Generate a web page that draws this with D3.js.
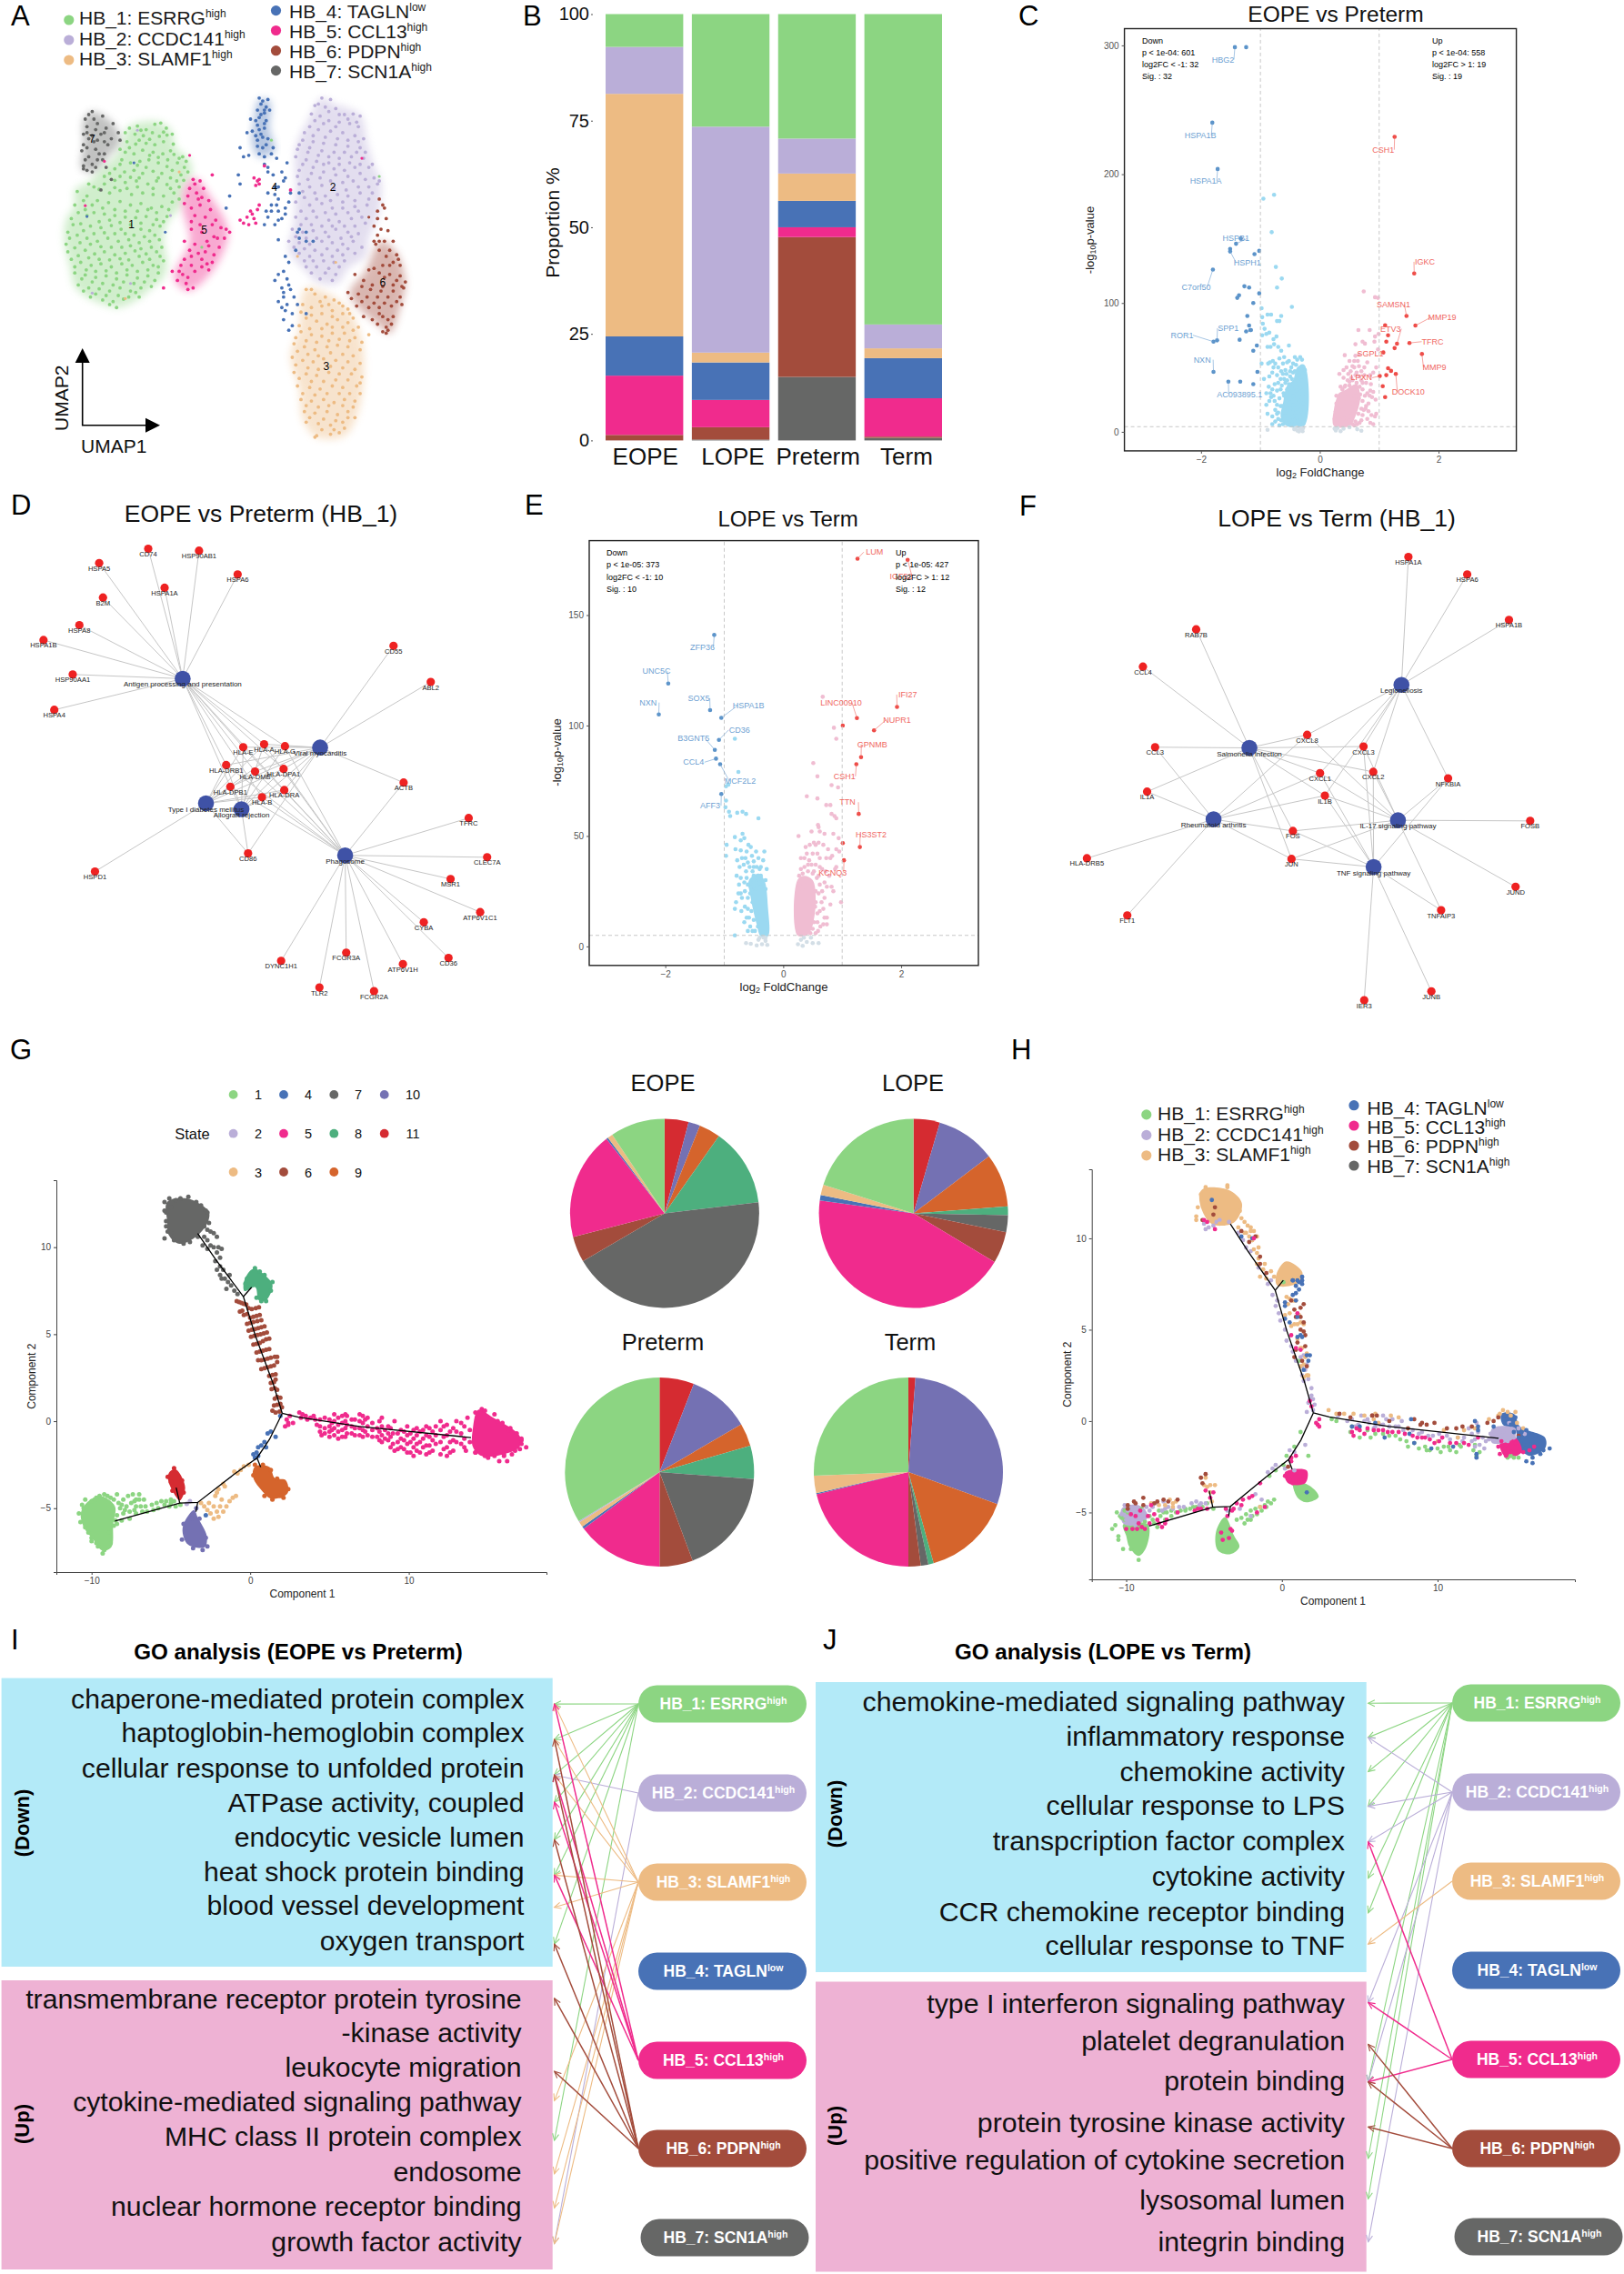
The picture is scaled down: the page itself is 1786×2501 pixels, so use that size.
<!DOCTYPE html>
<html><head><meta charset="utf-8"><script src="https://cdn.jsdelivr.net/npm/d3@7"></script>
<style>html,body{margin:0;background:#fff}text{font-family:"Liberation Sans",Arial,sans-serif}</style></head><body>
<script>
// ---- shared categories
const typeNames=["HB_1: ESRRG","HB_2: CCDC141","HB_3: SLAMF1","HB_4: TAGLN","HB_5: CCL13","HB_6: PDPN","HB_7: SCN1A"];
const typeSup=["high","high","high","low","high","high","high"];
const typeColors=["#8CD582","#BAAED8","#EDBB83","#4872B6","#F02B8D","#A34C3C","#666766"];
const stateColors=["#8CD582","#BAAED8","#EDBB83","#4872B6","#F02B8D","#A34C3C","#666766","#4DAF7E","#D5642C","#7471B3","#D52B31"];
// ---- A: UMAP, read in picture units
const umapOutline=[
[[370,420],[460,405],[495,440],[505,490],[545,530],[550,580],[525,620],[520,680],[480,740],[470,800],[480,870],[470,920],[430,960],[400,990],[340,1020],[300,1010],[250,985],[215,950],[200,880],[185,800],[190,730],[215,680],[215,630],[260,600],[290,560],[330,520],[350,480]],
[[925,325],[960,345],[1035,380],[1055,470],[1075,550],[1095,600],[1090,700],[1060,790],[1050,850],[1000,890],[970,940],[910,935],[880,900],[830,830],[845,740],[850,620],[850,490],[885,400]],
[[880,955],[960,985],[1010,1040],[1040,1130],[1045,1260],[1025,1380],[990,1445],[910,1450],[870,1390],[860,1290],[835,1180],[860,1090],[865,1000]],
[[745,330],[775,335],[775,430],[790,500],[745,520],[725,480],[730,400]],
[[560,590],[610,660],[650,740],[655,790],[610,900],[540,965],[500,920],[545,800],[525,690],[530,620]],
[[1095,800],[1135,830],[1165,930],[1150,1020],[1120,1105],[1085,1075],[1030,1020],[1005,970],[1050,900]],
[[265,370],[325,410],[345,470],[310,520],[270,570],[235,560],[240,480],[240,400]]];
const umapPts1=[372,425,395,418,420,430,445,412,462,408,478,425,388,445,412,450,438,440,458,452,480,448,495,445,365,470,390,478,420,475,445,480,470,470,498,478,360,505,385,510,410,498,440,505,468,510,500,512,525,520,350,530,375,540,402,535,428,530,455,540,482,530,510,540,535,535,330,560,358,570,385,565,410,575,440,568,465,575,495,565,520,580,540,570,300,585,330,598,360,605,392,600,425,610,450,600,480,612,508,600,528,598,255,610,285,628,315,640,345,632,378,645,410,640,440,645,470,650,500,640,222,635,250,650,280,665,312,672,345,668,375,680,405,675,435,690,465,685,495,670,215,680,245,695,270,705,300,710,330,715,360,720,390,722,420,718,450,728,480,718,205,725,232,742,260,750,290,755,320,748,348,760,405,760,430,765,460,750,195,770,222,780,250,790,280,800,310,790,340,800,370,795,400,805,430,800,458,795,190,810,215,822,245,830,272,842,300,835,330,845,360,840,388,832,420,842,450,835,205,860,232,870,262,880,290,875,320,885,350,875,380,880,410,870,440,880,470,865,215,905,245,912,275,920,305,915,335,925,365,912,395,922,425,915,455,905,225,945,255,955,285,958,315,965,345,955,375,965,405,955,435,950,260,985,295,995,325,1000,355,992,400,985];
const umapPts1b=[360,440,405,432,430,462,470,438,400,465,345,495,372,490,430,515,455,522,490,500,515,525,345,545,395,548,420,555,480,552,530,555,315,575,345,585,375,588,400,590,455,590,490,590,515,620,270,620,300,610,330,622,365,625,395,620,440,625,490,625,240,665,265,680,295,690,330,695,360,700,395,700,425,695,450,705,485,695,515,660,225,705,250,715,285,735,315,730,345,738,375,745,405,740,440,745,470,735,210,745,240,765,270,775,300,772,330,775,360,775,385,780,415,785,445,780,200,790,230,805,260,810,290,818,320,820,350,820,375,815,405,825,435,820,465,820,195,835,225,848,255,855,285,860,315,862,345,858,370,862,400,850,430,860,460,850,215,885,248,895,275,900,305,898,335,905,365,895,395,900,425,895,455,885,235,925,265,935,295,940,325,945,355,935,385,940,415,935,445,930,240,965,275,975,305,980,340,980,370,985,390,970,315,1010,335,1020];
const umapPts2=[925,325,950,330,905,350,935,355,965,360,895,378,920,385,990,380,1015,378,1035,385,945,400,975,405,1005,410,1030,420,890,420,915,430,950,435,985,440,1020,450,1045,460,870,465,900,470,930,475,965,480,1000,485,1035,490,855,495,885,505,915,515,945,520,975,525,1010,520,1045,525,870,545,900,555,930,545,960,560,990,565,1020,555,1060,555,855,585,885,595,920,590,950,600,985,605,1015,600,1050,595,1085,610,870,635,905,640,935,650,970,645,1000,650,1035,640,1070,640,850,670,890,680,925,675,955,690,985,690,1020,685,1055,680,850,720,880,725,910,720,945,730,975,735,1010,725,1040,720,840,760,870,770,900,765,935,770,965,760,1000,770,1030,775,830,800,860,805,890,810,925,800,955,805,985,810,1015,800,860,840,890,850,925,845,955,850,985,845,1020,840,880,885,910,885,945,890,975,885,920,925,955,930];
const umapPts2b=[915,345,945,370,975,380,905,400,930,410,965,420,1000,395,1025,405,875,440,900,450,935,455,970,460,1000,465,1030,470,860,480,890,490,925,500,960,505,990,505,1025,505,1050,505,850,520,880,530,910,535,945,540,975,545,1005,540,1035,545,1070,545,860,565,895,575,930,570,965,580,1000,585,1035,575,1075,590,860,610,890,620,925,615,960,625,995,630,1030,620,1060,620,1090,600,875,655,910,660,950,665,985,670,1020,665,1060,660,865,700,900,700,935,705,965,710,1000,705,1030,700,865,745,895,745,925,750,955,750,990,750,1020,750,1050,740,850,785,880,790,910,790,945,785,980,790,1010,785,845,820,875,825,905,830,940,825,970,830,1000,825,1040,820,875,865,900,865,930,865,960,870,990,865,935,905,965,910,895,905];
const umapPts3=[880,960,905,975,935,985,960,995,870,1010,895,1020,925,1015,955,1030,985,1015,1005,1040,880,1055,910,1065,940,1075,970,1060,1000,1070,1030,1085,865,1100,895,1110,925,1115,955,1105,990,1105,1020,1120,1060,1110,845,1140,875,1150,905,1160,940,1150,970,1145,1000,1150,1035,1160,840,1185,870,1195,900,1200,930,1190,965,1195,1000,1200,1035,1205,845,1235,880,1240,910,1245,945,1235,975,1240,1010,1240,1040,1250,855,1280,890,1285,920,1290,955,1280,985,1285,1025,1280,865,1325,895,1330,930,1325,960,1335,990,1325,1020,1330,875,1365,905,1370,940,1365,970,1375,1000,1365,880,1400,915,1405,950,1410,985,1400,910,1445,950,1440,975,1435];
const umapPts3b=[895,960,920,1000,945,1010,975,1005,1000,1025,865,1035,895,1045,925,1040,955,1050,985,1040,1015,1055,860,1080,890,1090,925,1090,955,1085,985,1085,1015,1095,850,1120,880,1130,910,1135,945,1130,975,1125,1005,1130,1040,1135,855,1165,885,1175,915,1180,950,1170,985,1175,1015,1180,850,1210,885,1220,915,1225,950,1215,985,1220,1020,1225,860,1255,895,1265,930,1265,965,1260,1000,1260,1035,1270,870,1305,905,1310,940,1305,975,1305,1005,1305,1035,1305,880,1345,915,1350,945,1345,985,1345,1015,1350,890,1385,930,1390,965,1395,1000,1385,1020,1385,925,1425,960,1425,990,1420,905,1450];
const umapPts4=[745,325,770,330,750,345,765,355,740,365,760,375,775,365,745,390,765,400,720,395,740,415,760,425,725,435,750,445,770,460,740,465,710,440,755,490,785,490,690,490,715,515,745,510,795,525,825,540,760,545,770,570,810,570,685,580,690,610,815,600,790,620,770,640,835,640,860,640,800,660,780,680,660,650,650,690,800,700,820,710,770,720,790,745,810,725,760,745,855,770,860,790,900,800,800,795,850,830,820,850,800,910,825,925,810,955,835,960,815,985,825,1010,820,1030,855,1010,880,1040,840,1080,830,1095,755,335,760,365,750,380,735,400,760,410,745,430,755,455,735,450,765,480,780,510,740,485,700,520,760,520,770,555,785,580,820,590,800,620,790,645,795,680,780,700,765,700,800,730,820,690,830,670,860,760,880,800,880,770,830,870,815,900,790,930,830,945,815,970,845,985,800,1000,840,1040,810,1020,815,1060];
const umapPts5=[555,595,575,600,610,580,545,625,565,640,580,655,530,675,550,690,575,680,600,665,560,715,590,720,610,745,635,755,660,770,550,760,580,770,615,785,645,790,530,800,560,810,600,815,630,820,550,850,580,860,610,870,520,880,495,900,525,910,560,900,600,895,510,930,540,960,470,955,740,600,735,615,745,610,720,700,745,680,730,725,715,745,690,730,760,550,835,630,560,610,585,625,570,660,540,650,605,695,550,735,575,745,620,730,650,760,625,790,595,800,545,830,570,840,590,835,615,845,595,875,530,860,550,880,580,885,540,920,515,900,535,940,555,955,730,590,745,595,725,710,740,695,735,740,710,720,700,740];
const umapPts6=[1090,660,1100,680,1085,725,1110,725,1075,750,1115,765,1085,780,1080,810,1090,830,1130,800,1110,850,1140,845,1100,880,1130,870,1150,880,1060,895,1090,905,1120,910,1150,915,1165,935,1020,910,1045,930,1070,945,1100,950,1130,945,1160,955,1000,970,1030,975,1055,985,1085,985,1115,985,1150,985,1025,1015,1060,1020,1090,1020,1125,1015,1155,1010,1070,1060,1100,1050,1130,1050,1085,1075,1110,1085,1125,1075,1110,1105,1085,700,1105,690,1095,760,1105,800,1075,800,1090,800,1120,830,1145,860,1120,880,1075,890,1105,920,1140,930,1155,950,1040,950,1065,960,1095,965,1130,965,1010,990,1040,1000,1075,1005,1105,1005,1140,1000,1045,1050,1090,1040,1115,1060,1100,1100,1115,1095];
const umapPts7=[265,370,245,395,270,395,295,385,250,420,275,430,325,410,305,425,240,445,265,450,290,445,340,440,240,480,270,470,300,470,345,465,235,500,275,495,310,480,255,520,300,510,240,550,265,545,295,530,250,565,265,570,305,555,320,595,290,630,255,380,280,410,250,440,300,440,255,460,280,465,320,460,250,490,285,510,245,530,280,530,240,560,275,555];
const umapStrays=[[1,395,432],[4,545,515],[2,515,570],[0,1090,585],[5,1060,720],[3,385,540],[4,245,682],[3,250,718],[1,490,715],[2,360,990],[1,375,940],[1,265,972],[0,580,820],[4,300,535],[4,1040,525],[0,780,465],[2,855,850],[2,965,870],[3,475,770]];
const clusterNums=[[1,378,745],[2,957,620],[3,938,1215],[4,789,622],[5,587,762],[6,1100,938],[7,265,460]];
// ---- B: stacked proportions, one list per group, HB_7 at the bottom up to HB_1
const groups=["EOPE","LOPE","Preterm","Term"];
const propEOPE=[0,1.3,13.9,9.2,56.9,11,7.7];
const propLOPE=[.2,2.9,6.4,8.8,2.3,53,26.4];
const propPreterm=[14.9,32.8,2.3,6.2,6.4,8.2,29.2];
const propTerm=[.6,.3,9,9.4,2.3,5.6,72.8];
const propTicks=[0,25,50,75,100];
// ---- C: volcano EOPE vs Preterm
const cDown=[-1.43,298.6,-1.24,298.6,-1.81,240,-1.72,204,-1.33,150,-1.41,146,-1.51,142,-1.51,140,-1.02,140.5,-1.10,138,-1.80,126,-1.27,113,-1.19,112,-1.02,107.5,-1.36,106,-1.39,104,-1.12,100,-1.22,90,-1.19,82.5,-1.17,79,-1.24,78,-1.16,79,-1.73,71,-1.79,70,-1.35,71.5,-1.06,67,-1.12,63,-1.79,46.5,-1.05,46.5,-1.54,39,-1.34,39,-1.12,37];
const cUp=[1.26,229,1.59,123,1.46,90,1.61,82.5,1.10,82.7,1.15,75,1.30,68.4,1.12,70,1.51,69,1.26,65,1.07,61.6,1.72,60.4,1.15,49.4,1.20,47.3,1.28,45,1.12,44,1.01,43.3,1.06,35.4,1.10,27];
const cLightBlue=[-.95,181,-.77,184,-.81,155,-.74,128,-.64,119,-.72,112,-.47,97,-.98,96,-.97,89,-.88,91,-.82,91,-.65,90,-.72,86,-.68,86,-.96,84,-.93,80,-.9,76,-.85,77,-.97,75,-.73,74,-.78,72,-.77,68,-.83,66,-.7,66,-.52,67,-.65,63,-.88,66,-.79,55,-.84,54,-.98,53,-.87,53,-.78,50,-.62,53,-.52,55,-.33,58,-.48,50,-.55,54,-.94,41,-.85,43,-.8,46,-.72,44,-.62,45,-.58,48,-.45,46,-.3,51,-.35,44,-.86,35,-.8,33,-.72,32,-.64,36,-.58,38,-.47,41,-.41,38,-.3,40,-.82,27,-.76,24,-.68,26,-.61,30,-.55,33,-.48,34,-.39,32,-.33,34,-.75,17,-.7,15,-.63,20,-.56,24,-.5,26,-.44,28,-.29,29,-.8,12,-.7,10,-.58,15,-.5,18,-.44,21,-.35,24,-.28,22,-.8,6,-.56,7,-.5,9,-.45,12,-.4,15,-.33,17,-.28,14,-.42,6,-.33,8,-.27,7,-.38,11,-.6,41,-.55,40,-.5,43,-.44,37,-.36,47,-.32,48,-.28,45,-.66,33,-.6,28,-.52,37,-.7,38,-.76,37,-.66,20,-.72,21,-.78,28,-.6,12,-.65,9,-.75,8,-.9,21,-.85,24,-.88,14,-.62,6,-.68,5,-.72,14,-.83,30,-.9,30,-.42,47,-.4,52,-.45,53,-.5,47,-.56,45,-.66,41,-.75,53,-.7,50,-.68,57,-.65,47,-.42,58,-.38,56,-.3,56,-.6,58,-.25,48];
const cLightPink=[.74,109,.93,104.5,.98,104,.65,79,.84,79,.93,74,.6,68,.72,70,.92,70,.76,68.5,.99,76,.66,60,.6,59,.58,55,.42,59.5,.98,64,.55,51,.66,51,.8,54,.75,50,.4,48,.62,46,.53,42,.4,42,.7,40,.78,38,.86,37,.33,45,.5,36,.55,34,.72,33,.85,32,.9,31,.94,25,.8,30,.35,29,.42,30,.47,30,.58,28,.68,29,.62,25,.72,24,.82,22,.87,13,.93,12,.95,14,.8,10,.7,9,.85,7,.6,18,.55,22,.5,15,.45,23,.38,17,.3,20,.27,16,.33,12,.25,10,.4,10,.5,9,.65,14,.72,13,.67,7,.6,8,.28,22,.33,28,.38,33,.43,36,.5,39,.55,40,.62,38,.67,35,.72,38,.76,28,.78,20,.7,18,.66,26,.74,17,.82,16,.9,6,.63,6,.58,5,.55,6,.3,7,.28,28,.35,35,.42,35,.47,40,.52,47,.58,50,.48,45,.45,50,.6,44,.67,43,.7,47,.64,55,.5,55,.85,44,.9,46,.95,50,.75,44,.84,28,.88,27,.77,18];
const cGrey=[-.88,1.5,-.43,2,-.38,1,-.33,2.5,-.29,.5,-.4,3.5,-.28,3,.27,1,.3,3,.35,.5,.4,2.5,.5,3.5,.63,2,.7,.8,.25,2.5,-.35,.3,-.3,2.8];
const cDenseBlue=[[-.26,4.5],[-.26,52],[-.38,50],[-.45,40],[-.55,36],[-.62,22],[-.66,12],[-.58,5]];
const cDensePink=[[.24,4.5],[.24,18],[.33,30],[.45,33],[.62,37],[.68,26],[.6,12],[.5,4.5]];
const cLabels=[["HBG2",-1.43,298.6,-1.63,289],["HSPA1B",-1.81,240,-2.01,230],["HSPA1A",-1.72,204,-1.92,194.6],["HSPB1",-1.41,146,-1.41,150],["HSPH1",-1.51,140,-1.22,131],["C7orf50",-1.80,126,-2.08,112.4],["SPP1",-1.73,71,-1.54,80.5],["ROR1",-1.79,70,-2.32,75],["NXN",-1.79,46.5,-1.98,56],["AC093895.1",-1.54,39,-1.35,29.2],["CSH1",1.26,229,1.07,219],["IGKC",1.59,123,1.77,132],["SAMSN1",1.46,90,1.24,99],["MMP19",1.61,82.5,2.06,89],["ETV3",1.30,68.4,1.19,80],["TFRC",1.51,69,1.90,70],["SGPL1",1.07,61.6,.85,61],["MMP9",1.72,60.4,1.93,50],["LPXN",1.01,43.3,.70,42],["DOCK10",1.28,45,1.49,31]];
const cInfoDown=["Down","p < 1e-04: 601","log2FC < -1: 32","Sig. : 32"];
const cInfoUp=["Up","p < 1e-04: 558","log2FC > 1: 19","Sig. : 19"];
// ---- E: volcano LOPE vs Term
const eDown=[-1.17,141,-1.95,119,-2.11,105,-1.24,107,-1.05,103.5,-1.09,93.5,-1.16,89,-1.14,85,-1.07,82.5,-1.05,69];
const eUp=[1.26,175.5,2.11,175,1.93,108.4,1.25,103.4,1.01,100,1.54,97.8,1.32,85.7,1.24,82.5,1.28,60,1.01,46.8,1.30,45,1.03,39];
const eLightBlue=[-.82,94,-.76,79,-.93,73.2,-.97,72.5,-.97,66,-.98,63,-.92,61,-.9,59,-.78,60.5,-.69,61,-.63,60,-.42,58,-.82,49.5,-.69,51,-.72,48,-.66,49,-.59,46,-.96,46,-.97,41,-.81,44,-.72,43.5,-.46,43,-.32,43,-.78,39,-.64,40,-.6,38,-.5,38.5,-.34,39,-.45,36,-.4,35,-.57,36,-.63,34,-.52,34,-.79,32,-.72,31,-.62,31,-.5,32,-.38,32,-.4,29,-.75,28,-.65,25,-.56,24,-.48,26,-.3,26,-.6,22,-.52,20,-.82,17,-.71,16,-.54,16,-.58,13,-.5,12,-.45,15,-.43,9,-.3,12,-.82,5,-.48,7,-.3,8,-.55,27,-.6,28,-.66,29,-.7,22,-.65,18,-.6,17,-.72,24,-.62,13,-.66,11,-.56,9,-.6,7,-.52,7,-.46,26,-.5,29,-.44,31,-.38,36,-.3,30,-.28,35,-.42,40,-.5,36,-.53,41,-.67,37,-.74,36,-.7,40,-.76,24,-.8,20,-.38,27,-.62,43,-.55,45];
const eLightPink=[.67,113,.86,99,.9,94,.51,83,.58,77,.82,73,.93,72,.4,68,.58,67,.73,64,.8,64,.82,60,.87,59,.9,58,.59,55,.6,54,.26,50,.48,52,.62,52,.7,51,.85,51,.94,49,.55,46,.6,47,.68,46,.4,42,.5,42,.58,42,.73,40,.83,41,.95,43,.36,40,.44,39,.55,37,.62,40,.9,36,.88,35,.33,33,.42,34,.5,33,.6,32,.7,29,.82,27,.85,25,.32,26,.4,28,.55,25,.65,20,.98,20,.8,19,.54,18,.62,16,.74,13,.58,11,.68,10,.59,7,.27,32,.3,35,.36,36,.42,37,.48,37,.52,34,.57,31,.62,28,.66,25,.7,22,.6,24,.55,20,.58,15,.52,11,.5,8,.46,6,.3,40,.38,45,.45,46,.52,47,.72,34,.78,32,.74,27,.66,35,.68,17,.7,13,.63,9,.55,6,.28,28,.8,40,.76,44,.9,44,.62,36,.74,10];
const eGrey=[-.63,1.5,-.55,1.2,-.45,.5,-.42,3,-.36,1,-.3,2.5,-.27,.7,-.33,4,.25,1,.3,3,.33,.3,.4,2,.47,4,.5,1.5,.6,1.5,-.4,4,-.3,4,.35,4];
const eDenseBlue=[[-.26,4.5],[-.26,18],[-.32,30],[-.42,33],[-.58,30],[-.55,22],[-.45,10],[-.38,4.5]];
const eDensePink=[[.24,5],[.24,30],[.35,32],[.5,30],[.55,20],[.48,8],[.4,5]];
const eLabels=[["ZFP36",-1.17,141,-1.37,135.4],["UNC5C",-1.95,119,-2.15,124.6],["NXN",-2.11,105,-2.29,110.4],["SOX5",-1.24,107,-1.43,112.4],["HSPA1B",-1.05,103.5,-.59,109],["CD36",-1.09,93.5,-.74,98],["B3GNT5",-1.16,89,-1.52,94.4],["CCL4",-1.14,85,-1.52,83.4],["MCF2L2",-1.07,82.5,-.73,74.9],["AFF3",-1.05,69,-1.24,63.7],["LUM",1.26,175.5,1.55,178.5],["IGF52",2.11,175,2.0,167.4],["IFI27",1.93,108.4,2.11,114],["LINC00910",1.25,103.4,.98,110.4],["NUPR1",1.54,97.8,1.93,102.6],["GPNMB",1.32,85.7,1.51,91.3],["CSH1",1.24,82.5,1.04,77],["TTN",1.28,60,1.09,65.3],["HS3ST2",1.30,45,1.49,50.7],["KCNQ3",1.03,39,.84,33.5]];
const eInfoDown=["Down","p < 1e-05: 373","log2FC < -1: 10","Sig. : 10"];
const eInfoUp=["Up","p < 1e-05: 427","log2FC > 1: 12","Sig. : 12"];
// ---- D / F: networks, read in picture units
const dHubs=[["Antigen processing and presentation",525,606],["Viral myocarditis",920,818],["Type I diabetes mellitus",592,990],["Allograft rejection",694,1008],["Phagosome",992,1150]];
const dGenes=[["HSPA5",285,250],["CD74",426,206],["HSP90AB1",572,212],["HSPA1A",473,326],["HSPA6",683,285],["B2M",296,356],["HSPA8",228,441],["HSPA1B",125,487],["HSP90AA1",209,593],["HSPA4",156,702],["CD55",1131,505],["ABL2",1238,616],["ACTB",1160,926],["HLA-E",699,817],["HLA-A",759,808],["HLA-G",819,814],["HLA-DRB1",650,872],["HLA-DMB",733,892],["HLA-DPA1",815,884],["HLA-DPB1",662,939],["HLA-DRA",817,949],["HLA-B",753,971],["CD86",713,1144],["HSPD1",273,1200],["TFRC",1347,1035],["CLEC7A",1400,1156],["MSR1",1295,1223],["ATP6V1C1",1380,1325],["CYBA",1218,1356],["CD36",1289,1466],["ATP6V1H",1158,1485],["FCGR3A",995,1450],["DYNC1H1",808,1475],["TLR2",918,1557],["FCGR2A",1075,1568]];
const hlaSet=["HLA-E","HLA-A","HLA-G","HLA-DRB1","HLA-DMB","HLA-DPA1","HLA-DPB1","HLA-DRA","HLA-B"];
const dLinks=[["HSPA5","CD74","HSP90AB1","HSPA1A","HSPA6","B2M","HSPA8","HSPA1B","HSP90AA1","HSPA4",...hlaSet],["CD55","ABL2","ACTB","CD86",...hlaSet],["HSPD1","CD86",...hlaSet],["CD86",...hlaSet],["TFRC","CLEC7A","MSR1","ATP6V1C1","CYBA","CD36","ATP6V1H","FCGR3A","DYNC1H1","TLR2","FCGR2A","ACTB",...hlaSet]];
const fHubs=[["Legionellosis",1127,597],["Salmonella infection",690,791],["Rheumatoid arthritis",587,1011],["IL-17 signaling pathway",1117,1014],["TNF signaling pathway",1047,1158]];
const fGenes=[["HSPA1A",1147,203],["HSPA6",1316,257],["HSPA1B",1436,397],["RAB7B",537,426],["CCL4",384,541],["CXCL8",856,751],["CCL3",419,789],["CXCL3",1018,787],["CXCL2",1046,865],["CXCL1",893,869],["NFKBIA",1261,885],["IL1A",396,926],["IL1B",907,938],["FOSB",1497,1016],["FOS",815,1047],["HLA-DRB5",223,1131],["JUN",811,1133],["JUND",1455,1219],["TNFAIP3",1241,1291],["FLT1",339,1307],["JUNB",1213,1541],["IER3",1020,1568]];
const fLinks=[["HSPA1A","HSPA6","HSPA1B","CXCL8","CXCL3","CXCL2","CXCL1","IL1B","NFKBIA"],["RAB7B","CCL4","CCL3","CXCL8","CXCL3","CXCL2","CXCL1","IL1A","IL1B","FOS","JUN"],["CCL3","IL1A","IL1B","CXCL8","CXCL1","FOS","JUN","HLA-DRB5","FLT1"],["CXCL8","CXCL3","CXCL2","CXCL1","IL1B","NFKBIA","FOSB","FOS","JUN","JUND","TNFAIP3"],["CXCL3","CXCL2","CXCL1","IL1B","NFKBIA","FOS","JUN","TNFAIP3","JUNB","IER3"]];
// ---- G: trajectory by state (Component 1, Component 2)
const treeBranches=[[[-3.31,10.79],[-2.18,9.30],[-.43,7.16],[.32,4.93],[1.45,2.15],[2.02,.45]],[[2.02,.45],[3.04,.23],[6.89,-.30],[13.92,-.94]],[[2.02,.45],[1.22,-1.04],[.43,-2.11],[-1.04,-3.07],[-3.31,-4.67],[-4.44,-4.71],[-8.53,-5.74]],[[-.43,7.16],[.09,7.70]],[[.43,-2.11],[.66,-2.64]],[[-3.31,-4.67],[-3.42,-5.20]],[[-4.44,-4.71],[-4.67,-3.82]]];
const blobs1=[[-10.68,-5.31],[-10.2,-4.6],[-9.43,-4.29],[-8.53,-4.88],[-8.64,-5.95],[-8.75,-7.23],[-9.32,-7.44],[-9.89,-6.8],[-10.45,-6.16]];
const blobs5=[[14.38,.66],[15.28,.23],[16.98,-.83],[16.98,-1.47],[15.96,-1.9],[14.6,-2],[14.04,-1.47],[14.04,-.41]];
const blobs7=[[-5.24,12.6],[-3.99,12.81],[-2.63,12.07],[-2.63,11.54],[-3.31,10.68],[-4.44,10.19],[-5.12,10.68],[-5.24,11.54]];
const blobs8=[[.2,8.76],[1.11,8.23],[1.41,7.8],[1,6.95],[.54,6.95],[.32,7.7],[-.36,7.48],[-.36,8.12]];
const blobs9=[[.43,-2.54],[1.22,-2.64],[1.56,-3.28],[2.24,-3.39],[2.36,-4.14],[1.34,-4.46],[.77,-4.03],[.2,-3.28],[.2,-2.75]];
const blobs10=[[-3.54,-5.1],[-3.31,-5.52],[-2.74,-6.59],[-2.86,-7.23],[-3.88,-7.12],[-4.22,-6.59],[-4.22,-5.95]];
const blobs11=[[-4.78,-2.75],[-4.56,-2.86],[-4.1,-3.82],[-4.44,-4.56],[-4.67,-4.35],[-5.17,-3.39],[-5.12,-2.96]];
const st1=[-10.7,-5.8,-10.5,-5.0,-10.3,-4.9,-10.4,-6.1,-10.2,-6.4,-10,-6.7,-10,-4.6,-9.7,-4.4,-9.3,-7.6,-9.7,-7,-8.3,-4.7,-8.0,-4.5,-7.7,-4.3,-7.4,-4.2,-7.0,-4.2,-8.2,-5.0,-7.8,-4.9,-7.3,-4.6,-7,-4.5,-6.7,-4.5,-8.4,-5.4,-8,-5.3,-7.6,-5.2,-7.2,-4.9,-6.9,-4.9,-6.6,-4.9,-8.5,-5.7,-8.1,-5.7,-7.6,-5.6,-7.2,-5.3,-6.8,-5.2,-6.5,-5.2,-6.2,-4.8,-5.9,-4.7,-5.6,-4.6,-5.3,-4.6,-5,-4.7,-4.8,-4.6,-6.1,-5.1,-5.8,-5,-5.4,-4.8,-5.1,-4.9,-4.7,-4.9,-4.4,-4.8,-5,-4.5,-9.2,-4.2,-9.5,-4.3,-9.8,-4.5,-9,-4.3,-8.8,-4.4,-8.6,-4.5,-8.4,-4.2,-10.8,-5.3,-10.6,-4.8,-10.4,-4.5,-7.5,-4.7,-7.2,-4.5,-7.9,-5.1,-8.1,-4.8,-7.3,-5.1,-10,-6.9,-9.6,-7.2,-9.2,-7.4,-8.8,-7,-8.9,-6.4,-8.6,-6,-8.4,-5.9];
const st2=[-3.8,-4.6,-4,-4.75];
const st3=[-3.1,-4.7,-2.9,-4.9,-2.6,-4.7,-2.7,-5.1,-2.3,-4.9,-2.2,-4.3,-2.5,-5.3,-2.1,-5.2,-1.9,-4.9,-1.8,-4.5,-2.3,-5.6,-2,-5.5,-1.7,-5.2,-1.5,-4.9,-1.3,-4.6,-1.1,-4.4,-.9,-4.3,-1.7,-3.6,-1.6,-3.75,-2.0,-3.9,-2.1,-4.1,-1.0,-2.9,-.8,-3,-.6,-2.8,-.4,-2.6,-.1,-2.5];
const st4=[1.3,-.6,1.6,-.9,1.1,-.7,.9,-1.2,1,-1.5,.7,-1.4,.5,-1.5,.4,-1.8,.5,-2,.2,-1.9,.3,-2.1,1.9,.3,-2.8,-5.4];
const st5=[2.3,.1,2.4,-.1,2.4,-.2,2.7,-.1,3.1,.5,3.2,.2,3.5,.3,3.8,.2,4.1,.1,4.4,.1,4.4,-.3,4.4,-.6,4.5,-.8,5,.1,5,-.3,5,-.6,5,-.9,5.3,.4,5.3,0,5.3,-.4,5.3,-.8,5.8,.3,5.8,-.1,5.8,-.5,5.8,-.9,6.1,.3,6.1,-.2,6.1,-.7,6.6,.1,6.6,-.4,6.6,-.8,7.1,.3,7.1,-.1,7.1,-.5,7.1,-.9,7.4,.2,7.4,-.3,7.4,-.8,8,-.4,8,-.9,8.3,.2,8.3,-.3,8.3,-.8,8.3,-1.2,8.7,-.3,8.7,-.7,8.7,-1.1,9,-.7,9,-1.3,9.1,0,9.1,-1.7,9.5,-.5,9.5,-1,9.5,-1.5,9.9,-1.8,9.9,-.3,9.9,-.8,9.9,-1.3,10.3,-.5,10.3,-1,10.3,-1.5,10.3,-2,10.7,-.6,10.7,-1.2,10.7,-1.8,11.1,-.3,11.1,-.8,11.1,-1.4,11.1,-1.9,11.5,-.6,11.5,-1.1,11.5,-1.7,12,0,12,-.5,12,-1.2,12,-1.9,12.4,-.2,12.4,-.8,12.4,-1.5,12.4,-2,12.8,-.4,12.8,-1.1,12.8,-1.7,13.3,-.1,13.3,-.7,13.3,-1.3,13.7,.2,13.6,-1.7,14.2,-1.8,15,-2.1,16,-2,16.5,-1.9,17,-1.6,17.4,-1.5,15.7,-2.3,16.2,-2.3,14.6,.7,15.6,0,16.3,-.5,17.1,-1.1,2.5,.3,2.2,-.3,3.3,.4,3.6,.1,4,.3,4.2,-.2,4.7,.2,4.7,-.4,4.7,-.7,5.15,-.1,5.15,-.5,5.55,.2,5.55,-.2,5.55,-.6,5.55,-1,6,.4,6,0,6,-.4,6,-.9,6.4,.1,6.4,-.3,6.4,-.7,6.9,.4,6.9,0,6.9,-.4,6.9,-.8,7.25,.1,7.25,-.6,7.7,-.1,7.7,-.5,7.7,-.9,8.15,0,8.15,-.6,8.15,-1.1,8.5,-.5,8.5,-1,8.85,-.4,8.85,-.9,8.85,-1.5,9.3,-.7,9.3,-1.2,9.3,-1.6,9.7,-.6,9.7,-1.1,9.7,-1.6,10.1,-.7,10.1,-1.2,10.1,-1.8,10.5,-.4,10.5,-.8,10.5,-1.3,10.5,-1.7,10.9,-.5,10.9,-1,10.9,-1.5,11.3,-.4,11.3,-.9,11.3,-1.4,11.3,-1.8,11.7,-.3,11.7,-.8,11.7,-1.3,12.2,-.3,12.2,-.9,12.2,-1.6,12.6,-.6,12.6,-1.2,12.6,-1.8,13,0,13,-.6,13,-1.2,13.5,-.3,13.5,-1,13.5,-1.5,13.85,-.5,13.85,-1.2,14.2,.5,14.8,.6,15.4,.4,15.9,-.1,16.4,-.4,16.8,-.7,17.1,-1,17.1,-1.3,16.7,-1.7,16,-1.9,15.4,-2,14.8,-2,14.2,-1.8];
const st6=[-.85,6.9,-.7,6.85,-.55,6.8,-.4,6.75,-.25,6.7,-.65,6.3,-.5,6.35,-.1,6.5,.1,6.45,.35,6.5,.55,6.55,-.4,6.1,-.2,6.15,0,5.95,.2,6,.4,6.05,.6,6.1,-.2,5.6,0,5.65,.2,5.7,.45,5.75,.7,5.8,-.1,5.2,.1,5.25,.3,5.3,.5,5.35,.7,5.4,.9,5.45,.05,4.85,.25,4.9,.45,4.95,.65,5,.85,5.05,1.05,5.1,.2,4.4,.4,4.45,.6,4.5,.8,4.6,1,4.7,1.2,4.75,.4,3.95,.6,4,.8,4.05,1,4.1,1.2,4.15,.5,3.5,.7,3.5,.9,3.55,1.1,3.6,1.3,3.65,1.55,3.7,1.7,3.7,.7,3,.9,3.05,1.1,3.1,1.3,3.15,1.5,3.2,1.7,3.4,1.2,2.6,1.4,2.65,1.6,2.7,1.3,2.2,1.5,2.25,1.6,2.4,1.35,1.85,1.55,1.9,1.7,1.8,1.55,1.3,1.7,1.4,1.9,1.35,1.5,.9,1.7,.95,1.9,1,1.4,.6,1.6,.5,1.85,.55,2,.8];
const st7=[-2.9,11.2,-2.7,11,-2.5,10.9,-2.3,10.8,-2.1,10.6,-2,10,-1.8,9.9,-2.9,10.6,-2.7,10.4,-2.5,10.1,-2.3,10,-2.1,9.7,-1.9,9.4,-3,10.1,-2.7,9.9,-2.2,9.2,-1.9,8.9,-1.7,8.7,-2.1,8.7,-1.9,8.4,-1.6,8.2,-1.4,8,-1.2,7.8,-1.5,7.6,-1,7.5,-.8,7.3,-1.8,8.2,-1.3,8.4,-5.3,11.2,-5.4,10.5,-5,10.8,-5.3,12,-5.4,12.6,-5.1,12.8,-4.7,12.7,-3.4,12.6,-2.8,12.1,-5,12.3,-5.4,12.1,-4.4,12.8,-3.9,12.9,-3.1,12.4,-2.7,12,-2.6,11.4,-5.3,11.5,-5.2,10.9,-4.8,10.4,-4.2,10.2,-3.8,10.3,-3.3,10.6];
const st8=[.3,8.8,-.3,7.9,1.4,8,1,6.9,.4,7.1,.6,8.6,.9,8.4,-.2,8.2,1.3,7.5,.7,6.9];
const st9=[.3,-2.5,2.4,-3.9,2.1,-4.4,1.4,-4.5,.9,-4.3,.8,-2.5,1.3,-2.8,1.7,-3.3,.2,-3.1,1.9,-4.3];
const st10=[-3.4,-5,-3.7,-5.6,-2.7,-7.2,-3,-7.4,-3.6,-7.3,-4.3,-6.8,-4.2,-5.9,-2.8,-6.7,-3.2,-5.6];
const st11=[-4.8,-2.7,-5.2,-3.2,-4.3,-3.4,-4.2,-4.1,-4.9,-4,-5,-3.5];
const stateOrder=["1","2","3","4","5","6","7","8","9","10","11"];
// ---- H: same path coloured by cell type
const hBlobGreen=[[[-10.2,-5.66],[-8.6,-5.66],[-8.7,-6.88],[-9.2,-7.38],[-9.8,-6.88],[-10,-6.27]],[[-3.65,-5.25],[-3.07,-6.27],[-2.73,-6.88],[-3.3,-7.28],[-4.11,-7.08],[-4.23,-6.06]],[[.74,-3.33],[1.78,-3.53],[2.36,-4.14],[1.55,-4.44],[.97,-4.14]]];
const hBlobOrange=[[[-5.27,12.5],[-4.92,12.76],[-3.3,12.6],[-2.56,11.89],[-3.07,10.87],[-4.46,10.77],[-5.15,11.58]],[[.28,8.74],[1.32,8.13],[.97,7.53],[-.3,7.42],[-.35,8.03]]];
const hBlobBlue=[[[14.1,.4],[14.9,.4],[15.3,-.3],[16.9,-.9],[16.9,-1.5],[15.9,-1.9],[15.2,-1.4],[15,-.5],[14.2,-.2]]];
const hBlobPink=[[[14,-1.2],[15,-.9],[15.4,-1.7],[14.4,-2]],[[.2,-2.8],[1.6,-2.7],[1.5,-3.4],[.4,-3.4]]];
const hBlobPurple=[[[13.5,-.4],[15,-.4],[14.9,-.95],[13.5,-1.2]],[[-10.3,-4.8],[-9.2,-4.6],[-8.6,-5.2],[-9.5,-5.7],[-10.2,-5.6]]];
const hGreen=[-10.4,-5.2,-10.1,-5.4,-9.9,-5,-10.7,-5.7,-10.5,-6.3,-9.7,-7,-9.2,-7.6,-8.5,-5.2,-8.2,-5.6,-7.8,-5.2,-7.4,-5,-7.1,-5.2,-6.8,-5,-6.5,-4.9,-6.2,-4.8,-5.9,-4.8,-5.5,-4.7,-5.1,-4.7,-4.8,-4.5,-2.6,-5.3,-2.3,-5.1,-2,-4.9,-1.7,-4.8,-1.4,-4.7,-1.1,-4.6,-.9,-4.4,-2.4,-5.6,-2,-5.4,-1.6,-5.1,-.8,-3,-.4,-2.7,.1,-2.4,1.2,-.6,.8,-1.4,.3,-1.9,4.4,-.6,4.5,-.3,5.5,-.5,6.5,-.7,7.3,-.8,8,-1.1,8.5,-1.2,9.2,-1.4,9.3,-1.6,10,-1.5,10.2,-1.7,10.8,-1.6,11.2,-1.7,11.5,-1.4,12.4,-1.3,12.5,-1.9,14.5,-2,14.9,-2,.1,7.6,1.1,3.3,-10.6,-5,-10.3,-5.3,-10.1,-4.9,-10.9,-5.9,-10.5,-6.5,-10.2,-7,-9,-4.8,-8.8,-5.5,-8.3,-5.4,-8,-5.8,-7.6,-5,-7.9,-4.9,-7.5,-5.4,-7.1,-4.9,-6.2,-4.9,-5.7,-4.7,-4.4,-4.8,-2.9,-5.4,-2.2,-5.4,-1.9,-5.2,-1.3,-4.9,-1,-4.7,-.7,-4.5,-.5,-4.3,1.7,-1.9,5,-.9,5.7,-.9,6,-.7,6.9,-.8,7.6,-1,8.1,-1.4,8.8,-1.5,9.5,-1.6,10.4,-1.4,10.7,-1.4,11.4,-1.3,12.3,-1.6,12.7,-1.7,14.7,-1.9,15.2,-2,3.2,.1,3.5,0];
const hPurple=[-9.9,-4.9,-10,-5.4,-9.6,-4.7,-9.3,-5,-9.1,-5.3,-8.9,-4.9,-8.8,-5.3,-8.5,-4.9,-9.4,-5.7,-7.7,-4.9,-7.3,-4.7,-7,-4.8,-5.8,-4.5,-5.3,-4.6,-4.9,-4.5,-2,-5.2,-2.7,-4.8,.2,-2.6,-.4,-2.4,1.5,-1.3,-5,10.8,-4.7,10.6,-4.4,10.7,-4.2,10.9,-3.4,10.9,-2.5,9.9,-2,9.3,-.7,7.7,-.6,6.9,-.4,6.3,-.1,5.5,.3,4.4,.7,3.8,1.2,3.5,1.3,3,1.3,2.5,1.4,2.2,1.7,1,1.9,1.4,1.6,.5,1.8,1.2,4.5,.1,4.9,-.2,5.3,0,5.5,.1,6,-.3,6.5,-.2,6.7,.1,7.1,.1,7.5,-.3,7.7,0,8.4,-.5,9,-.6,9.7,-.8,10.3,-.9,10.8,-1,11.3,-.9,12,-.4,12.2,-.7,12.4,-1,12.6,-.6,12.7,-1.3,13,-1.5,13.4,-.7,13.9,-.9,14.2,-.6,14.6,-.1,14.9,-.9,15.2,-.4,15.6,-.7,14.5,-1.1,-10.3,-5.1,-10.1,-4.6,-9.6,-5.4,-8.7,-4.7,-8.3,-4.7,-8,-4.5,-7.5,-4.8,-7.6,-4.4,-6.6,-4.7,-6.3,-4.7,-5.5,-4.4,-5.2,-4.5,-3.5,-4.9,-1.7,-4,-1.3,-4.3,-.9,-2.8,-.6,-2.6,.5,-1.6,.8,-1.7,.8,-2.7,-4.9,10.5,-4,11,-2.8,10.3,-2.3,9.5,-1.5,8.4,-.9,7.5,-.3,6.6,-.2,5.9,.2,5,.6,4.1,.9,3.3,1.4,3.6,1.6,3.1,1.5,2.8,1.7,2.3,1.9,1.8,2,1.2,2.1,.9,2,.6,3.6,.3,4.2,0,4.7,-.3,5.1,.3,5.6,-.1,5.9,-.4,6.3,-.2,6.5,.3,6.9,-.3,7.3,-.3,7.8,-.5,8.8,-.7,9.4,-.8,10.1,-.7,10.6,-.8,11.7,-.9,11.6,-1.1,12.4,-1.4,12.2,-1.1,12.5,-.1,12.9,-.9,13.1,-1.1,13.3,-1,13.7,-.9,14,-.6,14.3,-.8];
const hOrange=[-5.2,12.4,-4.9,12.8,-4.7,12.6,-3.5,12.8,-5.4,11.7,-5.5,11.2,-2.7,11.5,-2.6,11.1,-2.4,10.9,-2.2,10.7,-2,10.6,-1.8,10.4,-1.6,10.1,-2.8,10.6,-2.4,10.3,-2.1,10.1,-1.9,9.9,-1.8,9.4,-1.6,9.2,-1.5,8.9,-1.2,8.3,-1.6,8.6,-1.4,7.9,-1,7.8,.3,6.8,.5,6.7,.7,6.6,.9,6.6,.2,5.8,.5,5.9,.8,5.3,1,5.3,1.2,5.4,1,4.5,1.3,4,1.5,3.5,1.2,3,1.4,2.4,1.6,2.5,6,.4,5.9,.1,6.2,-.1,3,.6,4,.4,13.3,.1,14,.4,14.7,.3,15.1,-.1,15.5,-.4,14.5,.5,11.3,-.9,10,-1.1,-4.9,-3.1,-4.8,-3.6,-4.6,-3.9,-4.3,-3.5,-7.5,-4.6,-7,-4.5,-7.9,-4.6,-1.4,-4.7,-4,10.8,-5.5,11,-3.5,12.9,-2.3,10.3,-2,10.4,-1.5,9.5,-1.1,8.6,-.7,8.2,-.5,7.9,.4,6.4,.8,6.6,1.1,5.8,.6,5.2,1.4,5.3,1.2,4,1.6,3.7,1.4,3.1,1.7,2.5,13.9,.3,14.2,.6,15,.5,3.5,.4,4.6,.4,5.3,.3,7,.3,7.5,.2,10.4,-.5,11.7,-.5,12.4,-.4,-5,-3.5,-4.6,-3.5,-4.5,-4.4,-7.2,-4.3,-6.8,-4.4,-8.4,-4.5,-7,-4.7];
const hBlue=[-4.5,12.1,.7,7.7,.9,7.4,1.1,7.6,1.3,7.7,.9,7,1.1,7.2,.7,6.9,1.3,7.9,-2.6,10.1,-1.9,10,1.6,3.6,1.2,4.7,.5,5.4,.2,6.3,1,5.7,5,-.3,8.2,-.7,12.4,0,12.6,-.3,13.6,-.3,14.5,.1,15,.2,14.3,.3,15.2,-.9,15.5,-1.3,16,-1.3,16.3,-.8,15.7,-2.2,16.1,-2.3,16.8,-1.6,17.2,-1.5,15.7,-.5,1.6,-3.9,14.7,-.2,15.4,-.6,14.9,-.6,16.6,-1.8,16.1,-2,12.6,-.5,12.5,-1.8,12.5,-2,11,-1.4,9.6,-1.5,8.5,-1.2,8.3,.1,6.6,-.9,6,-.1,4.5,-.3,1.4,2.8,1.7,3.3,1.8,3.6,1.3,4.6,1,4.6,.7,7.7,1.3,7.5,1,7.7,.9,6.6,.2,6.5,.2,5.6];
const hPink=[-9.7,-5.1,-9.4,-5.2,-9,-5.8,-9.2,-5.6,-9.1,-4.9,-8.4,-4.6,-8.2,-5.1,-7.9,-5.6,-7.5,-5.6,-7.4,-5.4,-6.7,-5,-5.2,-4.8,-4.8,-4.8,-4.9,-3.8,-4.6,-4.2,-4.4,-3.9,-3.6,-4.8,-3.5,-5.2,-3.3,-5.9,-3.9,-6.1,-3.4,-6.4,-2.6,-4.6,-2.1,-4.2,-1.6,-5,-1.1,-4.7,.2,-3,.5,-3.2,.9,-3,.7,-3.4,1.1,-3.3,1.3,-3.2,.6,-2.2,2.3,-.2,2.4,.1,1.9,.8,1.8,1.1,-5,11,-4.8,10.9,-4.3,10.5,-1.8,10,1,5.9,.6,4.7,.9,4,1.2,3.9,4.5,-.6,5,-.5,5.5,-.4,6.2,-.5,6.5,-.5,7.1,-.6,8.7,-.9,9,-.9,9.5,-1,10.1,-1.1,11.2,-1.2,12.6,-.9,14.1,-1.1,14.3,-1.5,14.7,-1.7,15,-1.2,14.4,-1.3,15.5,-1.7,-10,-5.9,-9.6,-5.9,-9.3,-5.9,-8.8,-5.9,-8.6,-5.2,-8.5,-5.6,-8,-5.4,-7.7,-5.8,-5.6,-4.9,-5.4,-4.8,-3.2,-4.9,-3.1,-4.8,-2.9,-4.5,-3.2,-6,-3.8,-6.5,-2.5,-4.3,-1.9,-4.1,-1.4,-3.4,.9,-1.9,.6,-2,2.4,-.3,2.2,-.1,4.8,-.4,4.6,-.8,5.3,-.7,5.9,-.5,6.8,-.6,7.5,-.6,7.9,-.7,8.4,-.8,9.2,-.9,9.8,-1.2,10.3,-.9,10.8,-1.2,11.7,-1.2,12,-1.3,13.9,-1.4,14,-1.8,15.9,-1.6,16.2,-1.4,14.4,-1.9];
const hBrown=[-5.1,11,-4.4,11.3,-4.3,11.7,-1.7,10.1,-1.4,9,-1,8.1,.8,6.1,1.2,6.2,.9,5.7,1.2,5,1.4,4.9,1,4.3,1.5,4.1,.8,3.5,-9.9,-4.6,-9.5,-4.4,-8.9,-4.6,-8.2,-4.5,-7.6,-4.3,-4.9,-2.9,-5.1,-3.4,.4,-2.5,5.8,.3,4.4,.2,3.7,.4,6.9,0,8.1,-.4,9,-.1,9.3,-.2,10.6,-.4,11.2,-.4,13.2,-.1,13.6,0,15.2,-.8,6.1,.3,5.8,.3,8.5,.1,8.9,-.2,9.8,-.1,11.6,-.3,12.2,-.3,13.9,.2,.6,6.6,1.4,6.4,1.2,5.7,1.4,5.4,1.5,4.7,.9,3.9,1.3,3.3,1.6,3,-2.6,10.4,-2.1,9.8,-1.4,8.6,-9.9,-4.8,-9.4,-4.5,-8.9,-4.2,-8,-4.4,-7.3,-4.4,-6.7,-4.3,-5.2,-3.1];
// ---- pies: state shares, clockwise from the top, states 11 down to 1
const pieEOPE=[4.1,2,3.65,13.4,43.5,4.4,18.5,.3,.9,0,9.35];
const pieLOPE=[4.5,10.2,9.1,1.5,2.9,5.4,43.6,.9,1.8,0,20.1];
const piePreterm=[5.9,10.7,3.9,5.7,18.1,5.7,14.8,.4,.9,.2,33.7];
const pieTerm=[1.2,29.3,15.2,.9,1.3,2.1,21.2,.2,3,0,25.6];
// ---- I / J: GO terms and links from cell type to term row
const iDownTerms=["chaperone-mediated protein complex","haptoglobin-hemoglobin complex","cellular response to unfolded protein","ATPase activity, coupled","endocytic vesicle lumen","heat shock protein binding","blood vessel development","oxygen transport"];
const iUpTerms=["transmembrane receptor protein tyrosine","-kinase activity","leukocyte migration","cytokine-mediated signaling pathway","MHC class II protein complex","endosome","nuclear hormone receptor binding","growth factor activity"];
const jDownTerms=["chemokine-mediated signaling pathway","inflammatory response","chemokine activity","cellular response to LPS","transpcription factor complex","cytokine activity","CCR chemokine receptor binding","cellular response to TNF"];
const jUpTerms=["type I interferon signaling pathway","platelet degranulation","protein binding","protein tyrosine kinase activity","positive regulation of cytokine secretion","lysosomal lumen","integrin binding"];
const iLinks=[[0,0],[0,1],[0,2],[0,3],[0,4],[0,5],[0,7],[0,11],[1,2],[1,14],[2,0],[2,1],[2,2],[2,5],[2,6],[2,10],[2,12],[2,13],[2,14],[4,0],[4,2],[4,3],[4,5],[5,1],[5,2],[5,4],[5,7],[5,8],[5,9]];
const jLinks=[[0,0],[0,1],[0,2],[0,3],[0,5],[0,6],[0,10],[0,12],[0,13],[1,1],[1,3],[1,4],[1,8],[1,10],[1,14],[2,7],[4,4],[4,8],[4,10],[5,9],[5,10],[5,11]];
const iRowsRead=[205,290,375,440,530,615,692,780,910,1085,1155,1250,1330,1412,1497];
const jRowsRead=[203,285,367,450,535,622,705,780,920,1020,1110,1218,1293,1390,1493];

// ---------------- drawing
const svg=d3.select("body").append("svg").attr("width",1786).attr("height",2501).style("display","block");
svg.append("defs").append("filter").attr("id","soft").attr("x","-20%").attr("y","-20%").attr("width","140%").attr("height","140%").append("feGaussianBlur").attr("stdDeviation",4);
const pairs=f=>{const o=[];for(let i=0;i<f.length;i+=2)o.push([f[i],f[i+1]]);return o};
function T(x,y,s,size,o={}){const t=svg.append("text").attr("x",x).attr("y",y).attr("font-size",size).text(s).attr("fill",o.fill||"#000");
 if(o.anchor)t.attr("text-anchor",o.anchor);if(o.weight)t.attr("font-weight",o.weight);if(o.rot!=null)t.attr("transform",`rotate(${o.rot} ${x} ${y})`);if(o.family)t.style("font-family",o.family);return t}
[["A",12,28],["B",575,28],["C",1120,28],["D",12,566],["E",577,566],["F",1121,567],["G",11,1165],["H",1112,1165],["I",12,1814],["J",905,1814]].forEach(d=>T(d[1],d[2],d[0],31));
function typeLegend(dotX,textX,rows,start){rows.forEach((r,i)=>{svg.append("circle").attr("cx",dotX).attr("cy",r[0]).attr("r",5.6).attr("fill",typeColors[i+start]);
 const t=T(textX,r[1],typeNames[i+start],21,{fill:"#1a1a1a"});t.append("tspan").attr("dy",-8).attr("font-size",12).text(typeSup[i+start])})}
typeLegend(75.8,87,[[22,27],[44,50],[66,72]],0);typeLegend(303.5,318,[[11.6,20],[33.5,42],[55.7,64],[77.6,86]],3);
// A
const ux=d3.scaleLinear([0,1568],[0,600]),uy=d3.scaleLinear([0,1568],[0,520]);
const closed=d3.line().curve(d3.curveCatmullRomClosed.alpha(.5));
umapOutline.forEach((p,i)=>svg.append("path").attr("d",closed(p.map(d=>[ux(d[0]),uy(d[1])]))).attr("fill",typeColors[i]).attr("opacity",.4).attr("filter","url(#soft)"));
[[umapPts1,0],[umapPts1b,0],[umapPts2,1],[umapPts2b,1],[umapPts3,2],[umapPts3b,2],[umapPts4,3],[umapPts5,4],[umapPts6,5],[umapPts7,6]].forEach(s=>svg.append("g").selectAll("circle").data(pairs(s[0])).join("circle").attr("cx",d=>ux(d[0])).attr("cy",d=>uy(d[1])).attr("r",1.9).attr("fill",typeColors[s[1]]));
svg.append("g").selectAll("circle").data(umapStrays).join("circle").attr("cx",d=>ux(d[1])).attr("cy",d=>uy(d[2])).attr("r",1.6).attr("fill",d=>typeColors[d[0]]);
clusterNums.forEach(d=>T(ux(d[1]),uy(d[2])+4,d[0],12,{anchor:"middle"}));
function arrowHead(x,y,pts){svg.append("path").attr("d",d3.line()(pts.map(p=>[x+p[0],y+p[1]]))+"Z").attr("fill","#000")}
svg.append("path").attr("d","M90.7,395V467.7H165").attr("fill","none").attr("stroke","#000").attr("stroke-width",1.6);
arrowHead(90.7,383,[[0,0],[-8,16],[8,16]]);arrowHead(176,467.7,[[0,0],[-16,-8],[-16,8]]);
T(89,498,"UMAP1",21,{fill:"#111"});T(74.6,474,"UMAP2",21,{rot:-90,fill:"#111"});
// B
const px=d3.scaleBand(groups,[666,1036]).paddingInner(.1),py=d3.scaleLinear([0,100],[484.4,15.5]);
const propKeys=[6,5,4,3,2,1,0];
const propRows=[propEOPE,propLOPE,propPreterm,propTerm].map((v,g)=>{const o={g:groups[g]};propKeys.forEach((k,i)=>o[k]=v[i]);return o});
svg.append("g").selectAll("g").data(d3.stack().keys(propKeys)(propRows)).join("g").attr("fill",d=>typeColors[d.key]).selectAll("rect").data(d=>d).join("rect").attr("x",d=>px(d.data.g)).attr("width",px.bandwidth()).attr("y",d=>py(d[1])).attr("height",d=>py(d[0])-py(d[1]));
const by=svg.append("g").attr("transform","translate(652,0)").call(d3.axisLeft(py).tickValues(propTicks).tickSize(2).tickPadding(2));
by.select(".domain").remove();by.selectAll("text").attr("font-size",20).attr("fill","#111").style("font-family","Liberation Sans");by.selectAll("line").attr("stroke","#555");
T(615,245,"Proportion %",21,{rot:-90,anchor:"middle",fill:"#111"});
groups.forEach((g,i)=>T([709.7,806,899.7,997][i],511,g,26,{anchor:"middle",fill:"#111"}));
// volcano
function volcano(c){const x=d3.scaleLinear(c.xd,c.xr),y=d3.scaleLinear(c.yd,c.yr);
 const L=[c.xr[0],c.yr[1],c.xr[1]-c.xr[0],c.yr[0]-c.yr[1]];
 const area=d3.line().curve(d3.curveCatmullRomClosed.alpha(.5));
 [[c.dB,"#9BD9F1"],[c.dP,"#F0BDD2"]].forEach(d=>svg.append("path").attr("d",area(d[0].map(p=>[x(p[0]),y(p[1])]))).attr("fill",d[1]));
 [[c.gr,"#D3DEE6"],[c.lb,"#9BD9F1"],[c.lp,"#F0BDD2"],[c.dn,"#5B93C9"],[c.up,"#EE4B47"]].forEach(d=>svg.append("g").selectAll("circle").data(pairs(d[0])).join("circle").attr("cx",p=>x(p[0])).attr("cy",p=>y(p[1])).attr("r",2.3).attr("fill",d[1]));
 [[x(-1),y.range()[0],x(-1),y.range()[1]],[x(1),y.range()[0],x(1),y.range()[1]],[x.range()[0],y(c.cut),x.range()[1],y(c.cut)]].forEach(l=>svg.append("line").attr("x1",l[0]).attr("y1",l[1]).attr("x2",l[2]).attr("y2",l[3]).attr("stroke","#c8c8c8").attr("stroke-dasharray","4 3").attr("stroke-width",1));
 c.lab.forEach(l=>{const neg=l[1]<0,col=neg?"#6D9FD2":"#F0675F";
  svg.append("line").attr("x1",x(l[1])).attr("y1",y(l[2])).attr("x2",x(l[3])+(l[3]>l[1]?-12:12)).attr("y2",y(l[4])).attr("stroke",col).attr("stroke-width",.6);
  T(x(l[3]),y(l[4])+3,l[0],9,{anchor:"middle",fill:col})});
 svg.append("rect").attr("x",L[0]).attr("y",L[1]).attr("width",L[2]).attr("height",L[3]).attr("fill","none").attr("stroke","#222").attr("stroke-width",1.4);
 const ax=svg.append("g").attr("transform",`translate(0,${L[1]+L[3]})`).call(d3.axisBottom(x).tickValues([-2,0,2]).tickSize(3).tickFormat(d3.format("d")));
 const ay=svg.append("g").attr("transform",`translate(${L[0]},0)`).call(d3.axisLeft(y).tickValues(c.yt).tickSize(3));
 [ax,ay].forEach(a=>{a.select(".domain").remove();a.selectAll("text").attr("font-size",10).attr("fill","#555").style("font-family","Liberation Sans");a.selectAll("line").attr("stroke","#555")});
 c.info[0].forEach((s,i)=>T(c.ix[0],c.iy[i],s,9));c.info[1].forEach((s,i)=>T(c.ix[1],c.iy[i],s,9));
 T(c.tx,c.ty,c.title,c.ts,{anchor:"middle",fill:"#111"});
 const xl=T(c.lx,c.ly,"log",13,{anchor:"middle",fill:"#222"});xl.append("tspan").attr("dy",2).attr("font-size",9).text("2");xl.append("tspan").attr("dy",-2).text(" FoldChange");
 const yl=T(c.vx,c.vy,"-log",13,{anchor:"middle",rot:-90,fill:"#222"});yl.append("tspan").attr("dy",2).attr("font-size",9).text("10");yl.append("tspan").attr("dy",-2).text("p-value");
}
volcano({xd:[-3.29,3.31],xr:[1236.6,1667.6],yd:[-14.8,313],yr:[495.9,31.5],dB:cDenseBlue,dP:cDensePink,lb:cLightBlue,lp:cLightPink,gr:cGrey,dn:cDown,up:cUp,cut:4,lab:cLabels,yt:[0,100,200,300],info:[cInfoDown,cInfoUp],ix:[1256,1575],iy:[48,61,74,87],title:"EOPE vs Preterm",ts:24.5,tx:1469,ty:24,lx:1452,ly:524,vx:1203,vy:264});
volcano({xd:[-3.29,3.31],xr:[648,1076],yd:[-8.6,183.7],yr:[1061.8,594.6],dB:eDenseBlue,dP:eDensePink,lb:eLightBlue,lp:eLightPink,gr:eGrey,dn:eDown,up:eUp,cut:5,lab:eLabels,yt:[0,50,100,150],info:[eInfoDown,eInfoUp],ix:[667,985],iy:[611.4,624.3,637.5,650.7],title:"LOPE vs Term",ts:24,tx:866.6,ty:579,lx:862,ly:1090,vx:617,vy:827.5});
// networks
function network(hubs,genes,links,offX,offY,title,tx,ty){const x=d3.scaleLinear([0,1568],[offX,offX+600]),y=d3.scaleLinear([0,1568],[offY,offY+560]);
 const pos=Object.fromEntries(genes.map(g=>[g[0],g]));
 hubs.forEach((h,i)=>svg.append("g").selectAll("line").data(links[i]).join("line").attr("x1",x(h[1])).attr("y1",y(h[2])).attr("x2",g=>x(pos[g][1])).attr("y2",g=>y(pos[g][2])).attr("stroke","#c6c6c6").attr("stroke-width",1));
 svg.append("g").selectAll("circle").data(genes).join("circle").attr("cx",d=>x(d[1])).attr("cy",d=>y(d[2])).attr("r",4.6).attr("fill","#EE2222");
 svg.append("g").selectAll("circle").data(hubs).join("circle").attr("cx",d=>x(d[1])).attr("cy",d=>y(d[2])).attr("r",8.8).attr("fill","#3F52A6");
 genes.forEach(d=>T(x(d[1]),y(d[2])+8.5,d[0],7.6,{anchor:"middle",fill:"#222"}));
 hubs.forEach(d=>T(x(d[1]),y(d[2])+9,d[0],8,{anchor:"middle",fill:"#222"}));
 T(tx,ty,title,26.5,{anchor:"middle",fill:"#111"});}
network(dHubs,dGenes,dLinks,0,530,"EOPE vs Preterm (HB_1)",287,573.6);
network(fHubs,fGenes,fLinks,1110,540,"LOPE vs Term (HB_1)",1470,578.6);
// trajectories
function trajectory(c){const x=d3.scaleLinear(c.xd,c.xr),y=d3.scaleLinear(c.yd,c.yr);
 const area=d3.line().curve(d3.curveCatmullRomClosed.alpha(.5)).x(d=>x(d[0])).y(d=>y(d[1]));
 c.blobs.forEach(b=>svg.append("path").attr("d",area(b[0])).attr("fill",b[1]));
 c.sets.forEach(s=>svg.append("g").selectAll("circle").data(pairs(s[0])).join("circle").attr("cx",d=>x(d[0])).attr("cy",d=>y(d[1])).attr("r",c.r).attr("fill",s[1]));
 treeBranches.forEach(b=>svg.append("path").attr("d",d3.line().x(d=>x(d[0])).y(d=>y(d[1]))(b)).attr("fill","none").attr("stroke","#000").attr("stroke-width",1.3));
 const ax=svg.append("g").attr("transform",`translate(0,${c.yr[0]})`).call(d3.axisBottom(x).tickValues([-10,0,10]).tickSize(3));
 const ay=svg.append("g").attr("transform",`translate(${c.xr[0]},0)`).call(d3.axisLeft(y).tickValues([-5,0,5,10]).tickSize(3));
 [ax,ay].forEach(a=>{a.select(".domain").attr("stroke","#444").attr("stroke-width",1);a.selectAll("text").attr("font-size",10).attr("fill","#444").style("font-family","Liberation Sans");a.selectAll("line").attr("stroke","#444")});
 T(c.l1[0],c.l1[1],"Component 1",12,{anchor:"middle",fill:"#222"});T(c.l2[0],c.l2[1],"Component 2",12,{anchor:"middle",rot:-90,fill:"#222"});}
const sc=i=>stateColors[i];
trajectory({xd:[-12.22,18.68],xr:[62,601],yd:[-8.67,13.85],yr:[1729,1298],r:2.5,l1:[332.5,1756.5],l2:[39.5,1513.7],
 blobs:[[blobs1,sc(0)],[blobs5,sc(4)],[blobs7,sc(6)],[blobs8,sc(7)],[blobs9,sc(8)],[blobs10,sc(9)],[blobs11,sc(10)]],
 sets:[st1,st2,st3,st4,st5,st6,st7,st8,st9,st10,st11].map((s,i)=>[s,sc(i)])});
const stateGrid=[[0,3,6,9],[1,4,7,10],[2,5,8]];
stateGrid.forEach((row,r)=>row.forEach((s,c)=>{const cy=[1203.9,1246.7,1289][r];svg.append("circle").attr("cx",[256.6,312,367.3,422.7][c]).attr("cy",cy).attr("r",4.9).attr("fill",sc(s));T([284,339,394,454][c],cy+5.5,stateOrder[s],14.5,{anchor:"middle",fill:"#111"})}));
T(211.5,1252.5,"State",16.5,{anchor:"middle",fill:"#111"});
const ty=i=>typeColors[i];
trajectory({xd:[-12.21,18.82],xr:[1200.7,1732],yd:[-8.66,13.78],yr:[1737,1286],r:2.4,l1:[1466,1764.7],l2:[1178,1511.6],
 blobs:[...hBlobGreen.map(b=>[b,ty(0)]),...hBlobOrange.map(b=>[b,ty(2)]),...hBlobBlue.map(b=>[b,ty(3)]),...hBlobPink.map(b=>[b,ty(4)]),...hBlobPurple.map(b=>[b,ty(1)])],
 sets:[[hGreen,ty(0)],[hPurple,ty(1)],[hOrange,ty(2)],[hBrown,ty(5)],[hBlue,ty(3)],[hPink,ty(4)]]});
typeLegend(1260.8,1273,[[1225.9,1232],[1248.4,1254.5],[1270.8,1277]],0);typeLegend(1489,1503.5,[[1215.7,1226],[1238,1247],[1260,1268],[1282,1290]],3);
// pies
const pieOrder=[10,9,8,7,6,5,4,3,2,1,0];
[[pieEOPE,"EOPE",730.9,1334.5,729,1200],[pieLOPE,"LOPE",1004.6,1334.5,1004,1200],[piePreterm,"Preterm",725.3,1619,729,1484.5],[pieTerm,"Term",999,1619,1001,1484.5]].forEach(p=>{
 const g=svg.append("g").attr("transform",`translate(${p[2]},${p[3]})`);
 g.selectAll("path").data(d3.pie().sort(null)(p[0])).join("path").attr("d",d3.arc().innerRadius(0).outerRadius(104)).attr("fill",(d,i)=>sc(pieOrder[i]));
 T(p[4],p[5],p[1],25.5,{anchor:"middle",fill:"#111"});});
// GO panels
function go(c){[[c.blue,"#B3EAF8"],[c.pink,"#EEB2D4"]].forEach(b=>svg.append("rect").attr("x",c.left).attr("y",b[0][0]).attr("width",c.right-c.left).attr("height",b[0][1]-b[0][0]).attr("fill",b[1]));
 c.down.forEach((s,i)=>T(c.tr,c.dy[i],s,c.fs,{anchor:"end",fill:"#111"}));c.upT.forEach((s,i)=>T(c.tr-c.upShift,c.uy[i],s,c.fs,{anchor:"end",fill:"#111"}));
 T(c.title[1],c.title[2],c.title[0],24.2,{anchor:"middle",weight:"bold"});
 T(c.side,c.sideY[0],"(Down)",22,{anchor:"middle",rot:-90,weight:"bold"});T(c.side,c.sideY[1],"(Up)",22,{anchor:"middle",rot:-90,weight:"bold"});
 const yr=d3.scaleLinear([0,1568],[1780,2500]);
 c.links.forEach(l=>{const col=typeColors[l[0]],x1=c.pill[0],y1=c.pillY[l[0]],x2=c.right+2,y2=yr(c.rows[l[1]]);
  const w=(l[0]==4||l[0]==5)?1.5:1.1;
  svg.append("line").attr("x1",x1).attr("y1",y1).attr("x2",x2).attr("y2",y2).attr("stroke",col).attr("stroke-width",w);
  const a=Math.atan2(y1-y2,x1-x2),s=8;
  svg.append("path").attr("d",d3.line()([[x2+s*Math.cos(a-.45),y2+s*Math.sin(a-.45)],[x2,y2],[x2+s*Math.cos(a+.45),y2+s*Math.sin(a+.45)]])).attr("fill","none").attr("stroke",col).attr("stroke-width",1.1)});
 typeNames.forEach((n,i)=>{const dx=i==6?c.shift:0;svg.append("rect").attr("x",c.pill[0]+dx).attr("y",c.pillY[i]-20.5).attr("width",c.pill[1]-c.pill[0]).attr("height",41).attr("rx",20.5).attr("fill",typeColors[i]);
  const t=T((c.pill[0]+c.pill[1])/2+dx+1,c.pillY[i]+6,n,17.5,{anchor:"middle",weight:"bold",fill:"#fff"});t.append("tspan").attr("dy",-6).attr("font-size",10.5).text(typeSup[i])});
}
go({left:1.6,right:607.7,blue:[1845.6,2163],pink:[2178,2496],tr:576.5,upShift:3,fs:30.2,down:iDownTerms,upT:iUpTerms,dy:[1878.7,1916.4,1954.5,1992.6,2031,2069,2106.4,2145],uy:[2209,2246,2284,2322,2360,2398.5,2436.6,2475.6],title:["GO analysis (EOPE vs Preterm)",328,1824.5],side:32,sideY:[2005,2336],links:iLinks,rows:iRowsRead,pill:[702,887],pillY:[1874,1972,2070,2168,2266,2363,2461],shift:2.5});
go({left:897,right:1502.7,blue:[1850,2169],pink:[2179.5,2498.5],tr:1479,upShift:0,fs:30.3,down:jDownTerms,upT:jUpTerms,dy:[1882,1920,1959,1996,2035,2074,2113,2150],uy:[2214,2255,2299,2345,2386,2430,2476],title:["GO analysis (LOPE vs Term)",1213,1825],side:926,sideY:[1995,2338],links:jLinks,rows:jRowsRead,pill:[1597,1782],pillY:[1873,1971,2069,2167,2265,2363,2460],shift:2.5});
</script></body></html>
